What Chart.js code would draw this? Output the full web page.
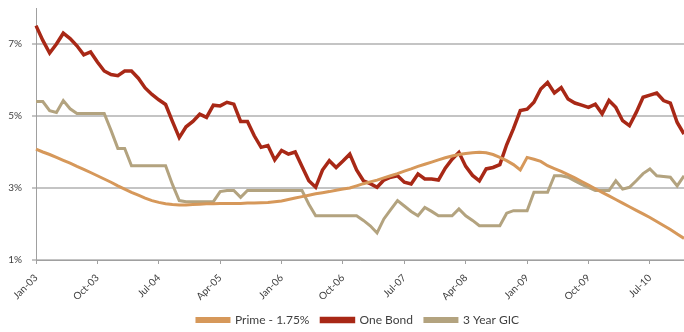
<!DOCTYPE html>
<html>
<head>
<meta charset="utf-8">
<script src="https://cdn.jsdelivr.net/npm/chart.js@4/dist/chart.umd.min.js"></script>
<style>
  html, body { margin: 0; padding: 0; background: #fff; }
  #wrap { width: 684px; height: 332px; }
</style>
</head>
<body>
<div id="wrap"><canvas id="rates"></canvas></div>
<script>
// ---------------------------------------------------
const months = [ 'Jan', 'Feb', 'Mar', 'Apr', 'May', 'Jun', 'Jul', 'Aug', 'Sep', 'Oct', 'Nov', 'Dec' ];
const years = [ '03', '04', '05', '06', '07', '08', '09', '10' ];
const categories = [];
years.forEach( y => months.forEach( m => categories.push( m + '-' + y ) ) );

const yTicks = [ 1, 3, 5, 7 ];

const prime = [
    4.08, 4.00, 3.93, 3.85, 3.77, 3.69, 3.60, 3.52, 3.43, 3.34, 3.25, 3.16,
    3.06, 2.97, 2.88, 2.80, 2.72, 2.65, 2.60, 2.56, 2.54, 2.53, 2.53, 2.54,
    2.55, 2.56, 2.56, 2.57, 2.57, 2.57, 2.57, 2.58, 2.58, 2.59, 2.60, 2.62,
    2.64, 2.68, 2.72, 2.76, 2.80, 2.84, 2.87, 2.90, 2.94, 2.97, 3.00, 3.06,
    3.12, 3.17, 3.22, 3.28, 3.34, 3.40, 3.47, 3.53, 3.60, 3.66, 3.72, 3.78,
    3.84, 3.89, 3.93, 3.96, 3.98, 3.99, 3.98, 3.93, 3.85, 3.76, 3.65, 3.50,
    3.85, 3.80, 3.74, 3.62, 3.54, 3.46, 3.37, 3.28, 3.18, 3.08, 2.98, 2.88,
    2.78, 2.68, 2.58, 2.48, 2.38, 2.28, 2.18, 2.07, 1.96, 1.85, 1.72, 1.60
];
const oneBond = [
    7.51, 7.10, 6.75, 7.00, 7.30, 7.15, 6.95, 6.70, 6.78, 6.50, 6.25, 6.15,
    6.12, 6.25, 6.25, 6.05, 5.78, 5.60, 5.45, 5.32, 4.85, 4.40, 4.70, 4.85,
    5.05, 4.96, 5.30, 5.28, 5.38, 5.33, 4.85, 4.85, 4.45, 4.13, 4.18, 3.78,
    4.04, 3.94, 4.00, 3.60, 3.20, 3.02, 3.50, 3.76, 3.57, 3.75, 3.94, 3.50,
    3.20, 3.12, 3.02, 3.22, 3.30, 3.34, 3.16, 3.11, 3.39, 3.25, 3.25, 3.22,
    3.55, 3.80, 3.99, 3.60, 3.35, 3.20, 3.53, 3.57, 3.65, 4.20, 4.65, 5.15,
    5.19, 5.38, 5.75, 5.93, 5.64, 5.79, 5.47, 5.36, 5.30, 5.24, 5.33, 5.06,
    5.43, 5.24, 4.87, 4.73, 5.10, 5.52, 5.58, 5.64, 5.43, 5.36, 4.82, 4.50
];
const gic3yr = [
    5.40, 5.40, 5.15, 5.10, 5.43, 5.20, 5.07, 5.07, 5.07, 5.07, 5.07, 4.60,
    4.10, 4.10, 3.62, 3.62, 3.62, 3.62, 3.62, 3.62, 3.10, 2.65, 2.62, 2.62,
    2.62, 2.62, 2.62, 2.90, 2.93, 2.93, 2.74, 2.93, 2.93, 2.93, 2.93, 2.93,
    2.93, 2.93, 2.93, 2.93, 2.55, 2.23, 2.23, 2.23, 2.23, 2.23, 2.23, 2.23,
    2.10, 1.95, 1.75, 2.14, 2.40, 2.65, 2.50, 2.35, 2.23, 2.46, 2.35, 2.23,
    2.23, 2.23, 2.42, 2.23, 2.10, 1.95, 1.95, 1.95, 1.95, 2.30, 2.37, 2.37,
    2.37, 2.88, 2.88, 2.88, 3.34, 3.34, 3.30, 3.20, 3.10, 3.02, 2.93, 2.93,
    2.93, 3.20, 2.97, 3.02, 3.20, 3.40, 3.53, 3.34, 3.32, 3.30, 3.06, 3.34
];
// ---------------------------------------------------
window.addEventListener( 'load', function () {
    Chart.defaults.font.family = 'Lato, "Open Sans", sans-serif';
    Chart.defaults.font.size = 11;
    Chart.defaults.color = '#404040';

    const line = ( label, data, color, width ) => ({
        label: label,
        data: data,
        borderColor: color,
        backgroundColor: color,
        borderWidth: width,
        pointRadius: 0,
        tension: 0,
        fill: false
    });

    // legend sits a little right of centre and low in the original
    const nudgeLegend = {
        id: 'nudgeLegend',
        afterLayout: function ( chart ) {
            const lg = chart.legend;
            const h = lg.bottom - lg.top;
            lg.left += 16;
            lg.right += 16;
            lg.top = 302;
            lg.bottom = 302 + h;
        }
    };

    new Chart( document.querySelector( '#rates' ), {
        type: 'line',
        data: {
            labels: categories,
            datasets: [
                line( 'Prime - 1.75%', prime, '#d6985a', 3 ),
                line( 'One Bond', oneBond, '#a82816', 3.5 ),
                line( '3 Year GIC', gic3yr, '#b3a37f', 3 )
            ]
        },
        plugins: [ nudgeLegend ],
        options: {
            responsive: true,
            maintainAspectRatio: false,
            animation: false,
            layout: { padding: { top: 8, right: 0, left: 0, bottom: -13 } },
            plugins: {
                tooltip: { enabled: false },
                legend: {
                    position: 'bottom',
                    labels: {
                        boxWidth: 32,
                        boxHeight: 3,
                        padding: 12,
                        font: { size: 12 }
                    }
                }
            },
            scales: {
                x: {
                    offset: false,
                    grid: { drawOnChartArea: false, color: '#a0a0a0', tickLength: 4 },
                    border: { color: '#a0a0a0', width: 1 },
                    ticks: {
                        autoSkip: false,
                        minRotation: 45,
                        maxRotation: 45,
                        padding: 8,
                        font: { size: 10 },
                        callback: function ( v, i ) {
                            return i % 9 === 0 ? categories[ i ] : null;
                        }
                    },
                    afterFit: function ( s ) { s.height = 51; }
                },
                y: {
                    min: 1,
                    max: 8,
                    afterBuildTicks: function ( s ) {
                        s.ticks = yTicks.map( v => ({ value: v }) );
                    },
                    grid: { color: '#c4c4c4', lineWidth: 2, tickLength: 4 },
                    border: { color: '#a0a0a0', width: 1 },
                    ticks: {
                        padding: 10,
                        font: { size: 10 },
                        callback: v => v + '%'
                    },
                    afterFit: function ( s ) {
                        s.width = 36;
                        s.paddingTop = 0;
                        s.paddingBottom = 0;
                    }
                }
            }
        }
    });
}, false );
</script>
</body>
</html>
